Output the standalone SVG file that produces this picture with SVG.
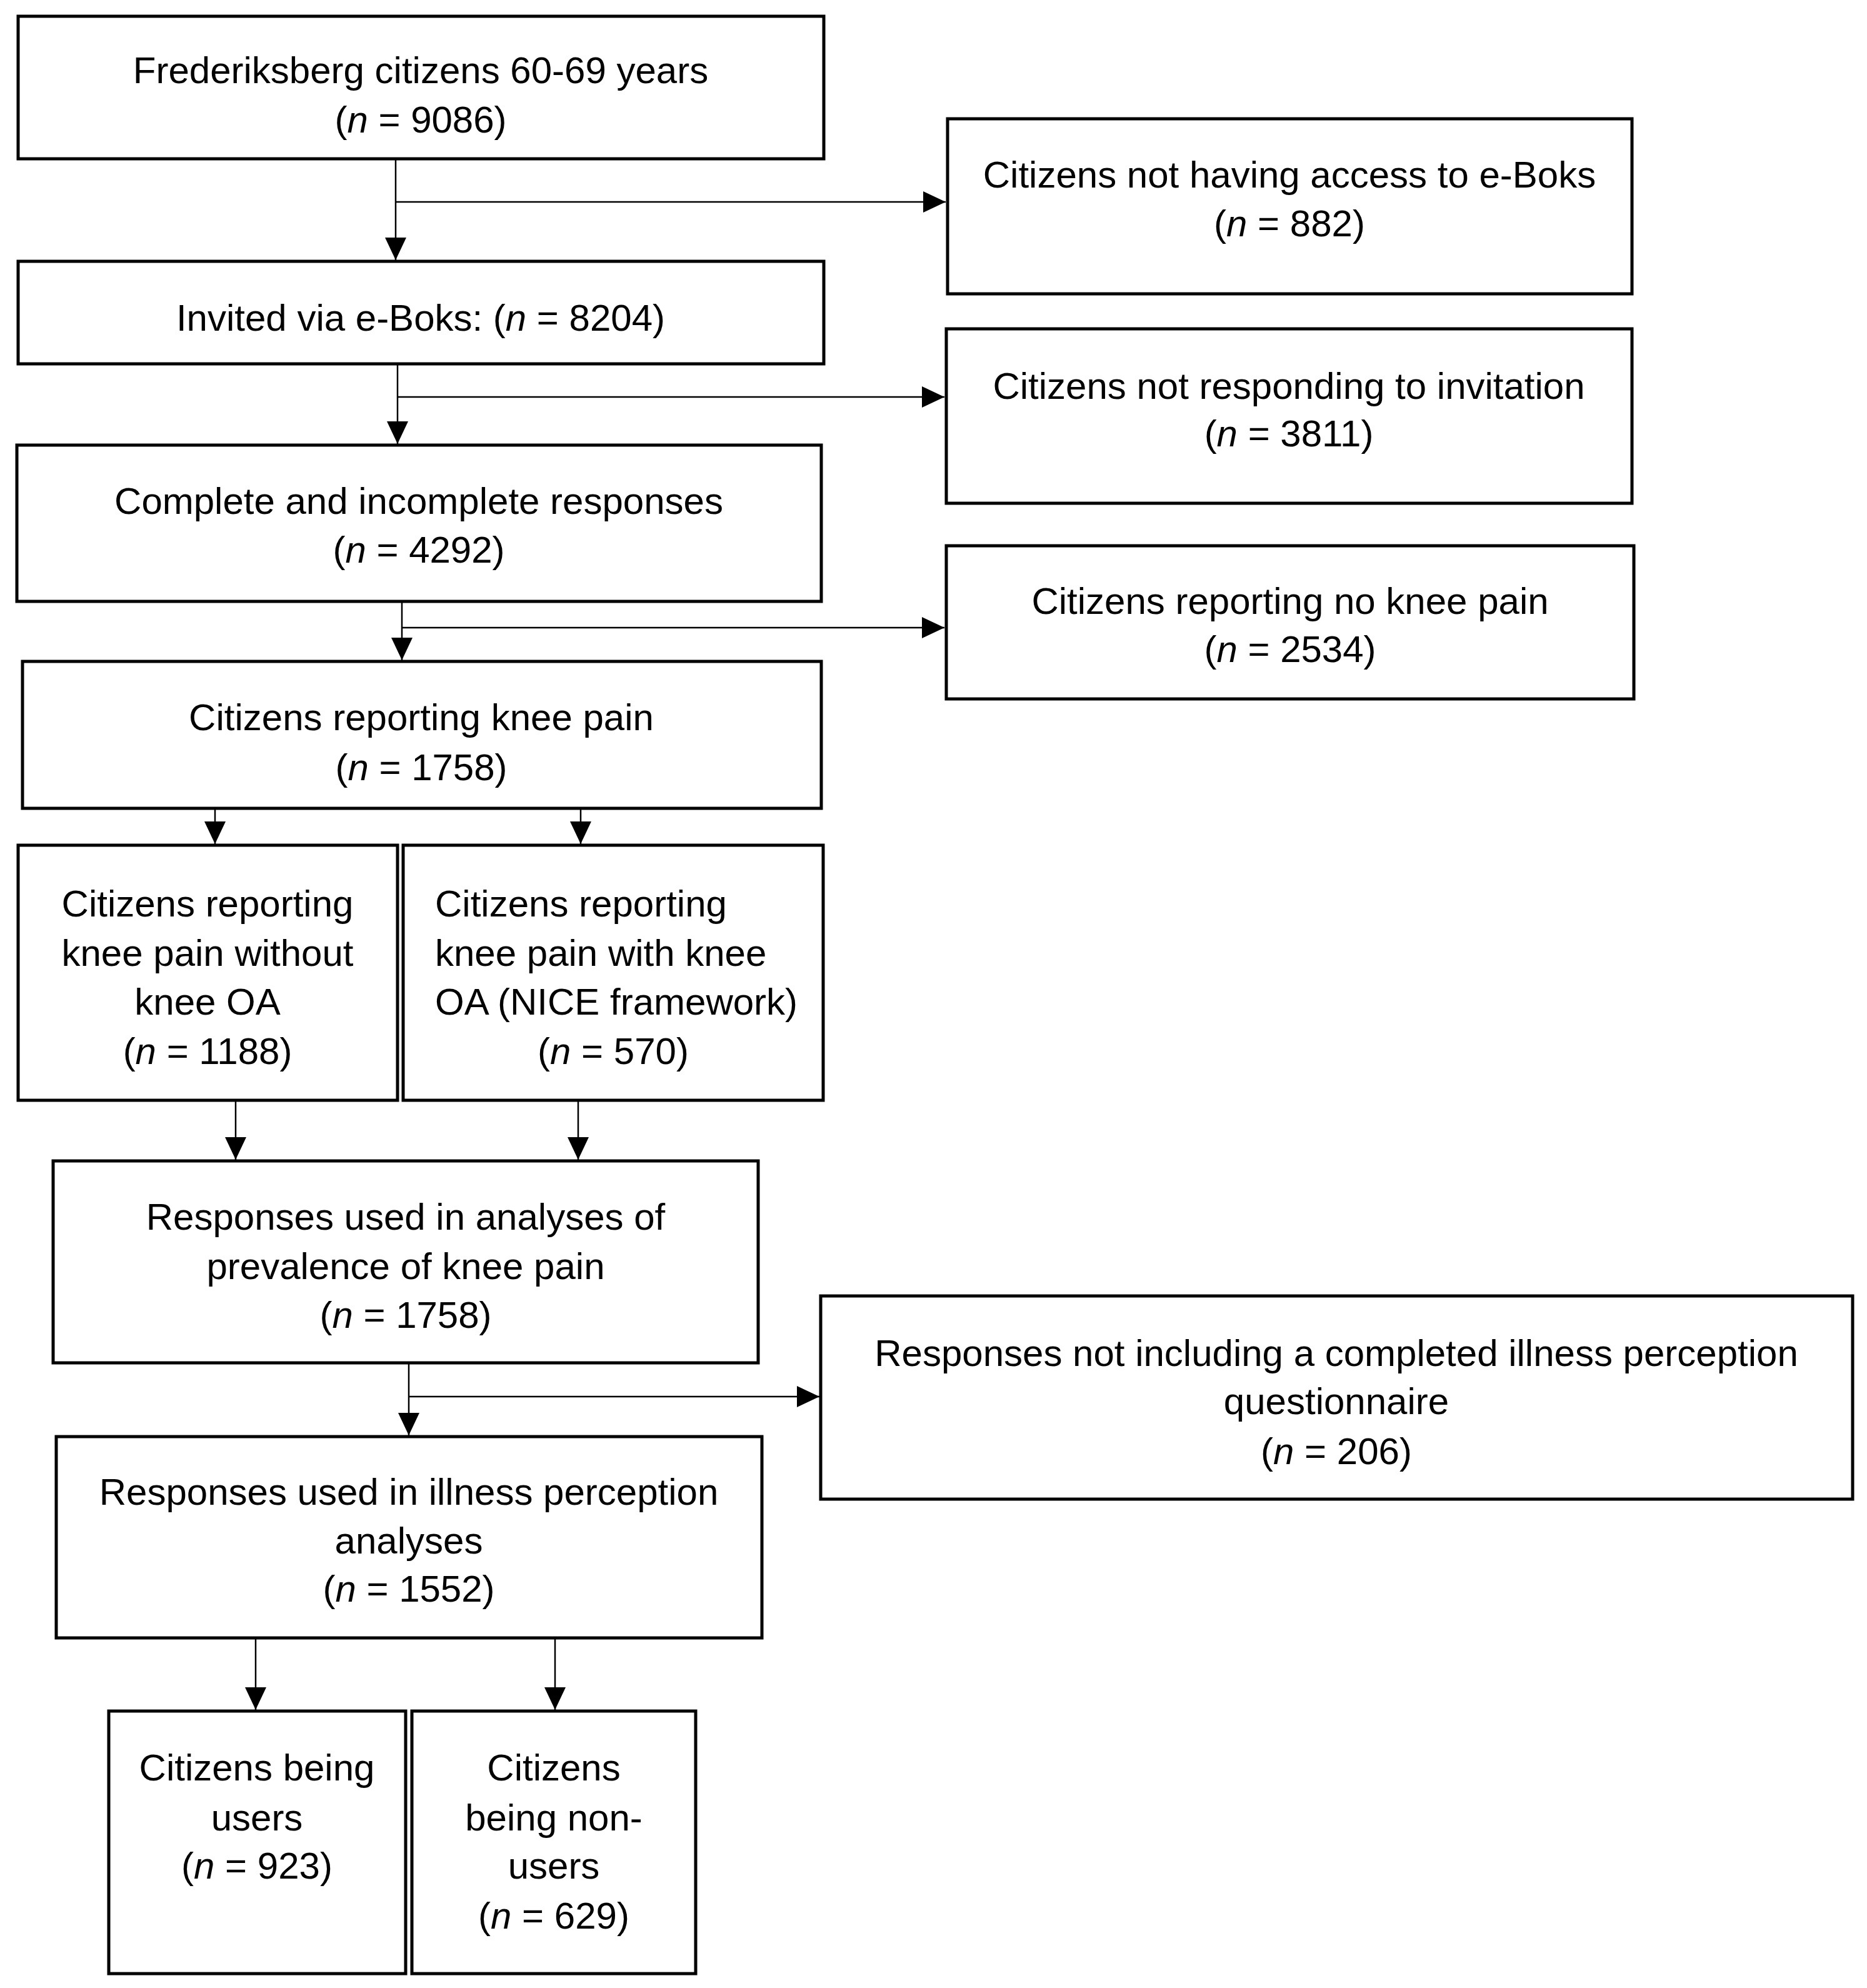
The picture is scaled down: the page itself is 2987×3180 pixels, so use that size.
<svg xmlns="http://www.w3.org/2000/svg" width="2987" height="3180" viewBox="0 0 2987 3180">
<style>
rect.box{fill:#fff;stroke:#000;stroke-width:5}
text{font-family:"Liberation Sans",Arial,sans-serif;font-size:60px;fill:#000;text-anchor:middle}
text.l{text-anchor:start}
tspan.i{font-style:italic}
.conn path{fill:none;stroke:#000;stroke-width:2.5}
</style>
<defs>
<marker id="ah" markerUnits="userSpaceOnUse" markerWidth="36" markerHeight="34" refX="36" refY="17" orient="auto" viewBox="0 0 36 34">
<path d="M0,0 L36,17 L0,34 z" fill="#000"/>
</marker>
</defs>
<rect width="2987" height="3180" fill="#fff"/>
<g class="conn">
<path d="M633,256 L633,416" marker-end="url(#ah)"/>
<path d="M633,323 L1513,323" marker-end="url(#ah)"/>
<path d="M636,584 L636,710" marker-end="url(#ah)"/>
<path d="M636,635 L1511,635" marker-end="url(#ah)"/>
<path d="M643,964 L643,1056" marker-end="url(#ah)"/>
<path d="M643,1004 L1511,1004" marker-end="url(#ah)"/>
<path d="M344,1295 L344,1350" marker-end="url(#ah)"/>
<path d="M929,1295 L929,1350" marker-end="url(#ah)"/>
<path d="M377,1762 L377,1855" marker-end="url(#ah)"/>
<path d="M925,1762 L925,1855" marker-end="url(#ah)"/>
<path d="M654,2182 L654,2296" marker-end="url(#ah)"/>
<path d="M654,2234 L1311,2234" marker-end="url(#ah)"/>
<path d="M409,2622 L409,2735" marker-end="url(#ah)"/>
<path d="M888,2622 L888,2735" marker-end="url(#ah)"/>
</g>
<g id="n1"><rect class="box" x="29" y="26" width="1289" height="228"/>
<text x="673" y="133">Frederiksberg citizens 60-69 years</text>
<text x="673" y="212">(<tspan class="i">n</tspan> = 9086)</text></g>
<g id="n2"><rect class="box" x="29" y="418" width="1289" height="164"/>
<text x="673" y="529">Invited via e-Boks: (<tspan class="i">n</tspan> = 8204)</text></g>
<g id="n3"><rect class="box" x="27" y="712" width="1287" height="250"/>
<text x="670" y="822">Complete and incomplete responses</text>
<text x="670" y="900">(<tspan class="i">n</tspan> = 4292)</text></g>
<g id="n4"><rect class="box" x="36" y="1058" width="1278" height="235"/>
<text x="674" y="1168">Citizens reporting knee pain</text>
<text x="674" y="1248">(<tspan class="i">n</tspan> = 1758)</text></g>
<g id="n5"><rect class="box" x="29" y="1352" width="607" height="408"/>
<text x="332" y="1466">Citizens reporting</text>
<text x="332" y="1545">knee pain without</text>
<text x="332" y="1623">knee OA</text>
<text x="332" y="1702">(<tspan class="i">n</tspan> = 1188)</text></g>
<g id="n6"><rect class="box" x="645" y="1352" width="672" height="408"/>
<text class="l" x="696" y="1466">Citizens reporting</text>
<text class="l" x="696" y="1545">knee pain with knee</text>
<text class="l" x="696" y="1623">OA (NICE framework)</text>
<text x="981" y="1702">(<tspan class="i">n</tspan> = 570)</text></g>
<g id="n7"><rect class="box" x="85" y="1857" width="1128" height="323"/>
<text x="649" y="1967">Responses used in analyses of</text>
<text x="649" y="2046">prevalence of knee pain</text>
<text x="649" y="2124">(<tspan class="i">n</tspan> = 1758)</text></g>
<g id="n8"><rect class="box" x="90" y="2298" width="1129" height="322"/>
<text x="654" y="2407">Responses used in illness perception</text>
<text x="654" y="2485">analyses</text>
<text x="654" y="2562">(<tspan class="i">n</tspan> = 1552)</text></g>
<g id="n9"><rect class="box" x="174" y="2737" width="475" height="420"/>
<text x="411" y="2848">Citizens being</text>
<text x="411" y="2928">users</text>
<text x="411" y="3005">(<tspan class="i">n</tspan> = 923)</text></g>
<g id="n10"><rect class="box" x="659" y="2737" width="454" height="420"/>
<text x="886" y="2848">Citizens</text>
<text x="886" y="2928">being non-</text>
<text x="886" y="3005">users</text>
<text x="886" y="3085">(<tspan class="i">n</tspan> = 629)</text></g>
<g id="r1"><rect class="box" x="1516" y="190" width="1095" height="280"/>
<text x="2063" y="300">Citizens not having access to e-Boks</text>
<text x="2063" y="378">(<tspan class="i">n</tspan> = 882)</text></g>
<g id="r2"><rect class="box" x="1514" y="526" width="1097" height="279"/>
<text x="2062" y="638">Citizens not responding to invitation</text>
<text x="2062" y="714">(<tspan class="i">n</tspan> = 3811)</text></g>
<g id="r3"><rect class="box" x="1514" y="873" width="1100" height="245"/>
<text x="2064" y="982">Citizens reporting no knee pain</text>
<text x="2064" y="1059">(<tspan class="i">n</tspan> = 2534)</text></g>
<g id="r4"><rect class="box" x="1313" y="2073" width="1651" height="325"/>
<text x="2138" y="2185">Responses not including a completed illness perception</text>
<text x="2138" y="2262">questionnaire</text>
<text x="2138" y="2342">(<tspan class="i">n</tspan> = 206)</text></g>
</svg>
